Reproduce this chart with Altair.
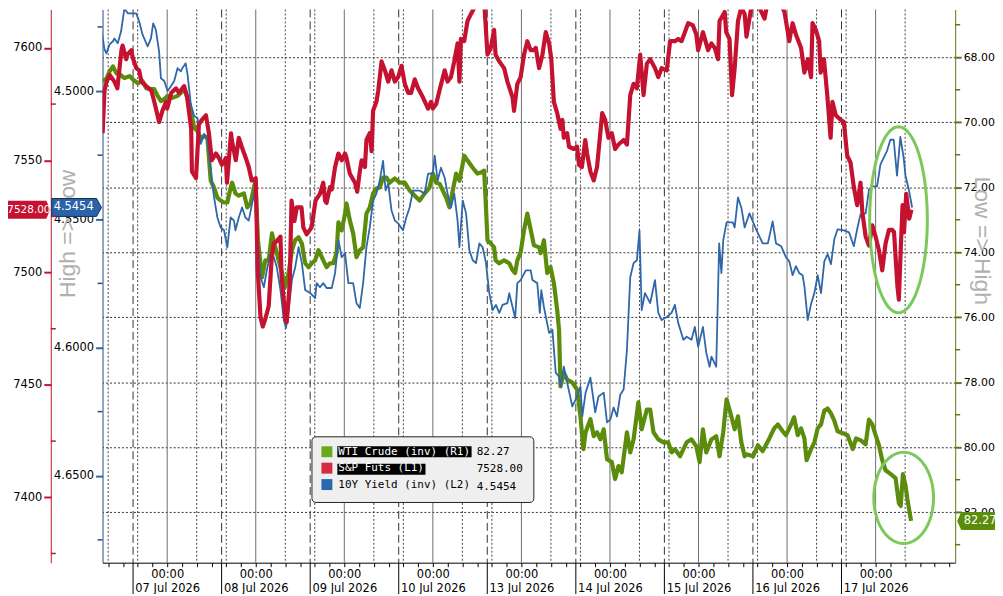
import math
import altair as alt
import pandas as pd

# ---------------- data ----------------
# x = trading-time hours, 0 = 07 Jul 2026 00:00, 24 h per session day
day_labels = ["07 Jul 2026", "08 Jul 2026", "09 Jul 2026", "10 Jul 2026", "13 Jul 2026",
              "14 Jul 2026", "15 Jul 2026", "16 Jul 2026", "17 Jul 2026"]
midnight_hours = [0, 24, 48, 72, 96, 120, 144, 168, 192]
session_breaks = [-9.25, 14.75, 38.75, 62.75, 86.75, 110.75, 134.75, 158.75, 182.75]
dotted_hours = [-16, -8, 8, 16, 32, 40, 56, 64, 80, 88, 104, 112, 128, 136, 152, 160, 176, 184, 200]
axis_tick_hours = [-16, -12, -8, -4, 0, 4, 8, 12, 16, 20, 24, 28, 32, 36, 40, 44, 48, 52, 56, 60, 64, 68,
                   72, 76, 80, 84, 88, 92, 96, 100, 104, 108, 112, 116, 120, 124, 128, 132, 136, 140,
                   144, 148, 152, 156, 160, 164, 168, 172, 176, 180, 184, 188, 192, 196, 200, 204, 208, 212]

sp_hours = [-17.5, -17.0, -16.4, -15.6, -14.3, -13.5, -12.4, -12.1, -11.1, -10.8, -9.7, -9.4, -8.4, -7.6, -7.0,
            -5.7, -4.3, -3.5, -2.2, -1.3, -0.3, 0.0, 1.1, 2.4, 3.2, 4.6, 5.4, 6.5, 6.7, 7.8, 8.6, 9.4, 10.5,
            11.3, 12.1, 13.2, 14.0, 14.8, 15.9, 16.2, 17.3, 17.5, 18.6, 19.4, 20.2, 21.3, 22.1, 22.9, 24.0,
            24.5, 25.3, 25.9, 26.7, 27.5, 28.3, 28.9, 29.7, 30.7, 31.0, 32.1, 32.4, 33.2, 33.7, 34.5, 35.1,
            36.4, 36.9, 37.8, 39.1, 40.2, 41.4, 42.3, 42.8, 43.2, 44.1, 44.6, 45.5, 46.4, 47.3, 48.2, 48.6,
            49.5, 50.9, 51.5, 52.2, 52.7, 53.6, 54.0, 54.9, 55.4, 55.8, 56.7, 57.2, 58.1, 59.0, 59.9, 60.8,
            61.7, 62.6, 63.5, 64.4, 65.3, 66.1, 67.1, 68.0, 69.3, 70.7, 71.5, 72.0, 72.9, 73.8, 75.2, 76.0,
            76.9, 77.8, 78.7, 79.2, 79.6, 80.5, 81.4, 82.3, 83.6, 84.8, 85.9, 86.8, 87.7, 88.6, 89.0, 90.0,
            91.3, 92.2, 93.6, 94.0, 94.9, 95.8, 96.7, 97.6, 98.5, 99.4, 99.9, 100.8, 101.7, 102.6, 103.5,
            104.1, 104.8, 105.7, 106.6, 107.1, 107.5, 108.4, 108.9, 110.2, 111.1, 111.6, 112.4, 113.3,
            113.8, 114.7, 115.6, 116.5, 117.9, 118.7, 119.6, 120.5, 121.4, 122.3, 123.7, 124.6, 125.5,
            126.4, 127.3, 128.2, 129.1, 130.0, 130.9, 132.2, 133.1, 134.0, 135.4, 136.3, 137.6, 138.5,
            139.4, 140.3, 141.2, 142.5, 143.4, 143.9, 145.2, 146.6, 147.5, 148.4, 149.3, 149.7, 151.1,
            151.5, 152.4, 153.1, 153.8, 154.7, 155.6, 156.5, 157.0, 158.3, 159.6, 160.5, 161.9, 162.8,
            163.9, 166.4, 167.3, 168.6, 169.5, 170.4, 171.8, 172.7, 173.6, 174.5, 174.9, 175.8, 176.7,
            177.1, 178.0, 178.9, 179.8, 180.3, 181.2, 182.5, 183.4, 184.3, 185.2, 186.1, 187.0, 187.9,
            188.4, 189.3, 190.2, 191.1, 192.0, 192.9, 193.8, 194.7, 195.6, 196.5, 197.0, 197.9, 198.3,
            198.8, 199.3, 199.7, 200.3, 201.1, 201.7]
sp_values = [7562, 7581, 7585, 7588, 7585, 7582, 7599, 7601, 7595, 7597, 7599, 7596, 7591, 7590, 7585,
             7583, 7581, 7576, 7567, 7572, 7576, 7573, 7580, 7582, 7580, 7583, 7578, 7564, 7545, 7542, 7566,
             7568, 7570, 7562, 7550, 7553, 7551, 7548, 7551, 7540, 7562, 7559, 7550, 7560, 7556, 7551, 7547,
             7541, 7542, 7502, 7480, 7476, 7480, 7485, 7506, 7513, 7514, 7516, 7498, 7479, 7478, 7495, 7532,
             7523, 7529, 7529, 7520, 7517, 7520, 7532, 7535, 7540, 7532, 7531, 7538, 7537, 7547, 7553, 7550,
             7553, 7551, 7544, 7540, 7536, 7545, 7550, 7547, 7559, 7562, 7554, 7572, 7576, 7581, 7594, 7590,
             7585, 7590, 7585, 7587, 7592, 7584, 7580, 7580, 7586, 7582, 7578, 7573, 7576, 7573, 7575, 7581,
             7590, 7585, 7587, 7594, 7602, 7585, 7604, 7603, 7612, 7615, 7619, 7624, 7621, 7597, 7600, 7608,
             7597, 7594, 7591, 7585, 7578, 7572, 7584, 7587, 7597, 7603, 7599, 7599, 7600, 7591, 7597, 7607,
             7602, 7595, 7576, 7571, 7564, 7568, 7560, 7562, 7556, 7555, 7556, 7548, 7547, 7559, 7553, 7545,
             7541, 7547, 7571, 7568, 7560, 7562, 7555, 7557, 7559, 7557, 7579, 7584, 7582, 7597, 7579, 7593,
             7595, 7591, 7587, 7591, 7590, 7603, 7603, 7604, 7603, 7607, 7611, 7610, 7606, 7599, 7607, 7599,
             7602, 7600, 7595, 7612, 7616, 7607, 7604, 7579, 7591, 7612, 7618, 7615, 7605, 7618, 7619, 7618,
             7613, 7621, 7623, 7619, 7616, 7603, 7611, 7606, 7600, 7589, 7595, 7587, 7611, 7608, 7603, 7589,
             7595, 7579, 7560, 7576, 7570, 7568, 7567, 7552, 7549, 7538, 7530, 7540, 7527, 7516, 7512, 7521,
             7516, 7510, 7501, 7513, 7519, 7519, 7518, 7494, 7488, 7510, 7530, 7518, 7535, 7524, 7528]

ust_hours = [-17.9, -17.0, -16.5, -15.6, -14.7, -14.3, -13.4, -12.5, -11.6, -10.7, -8.4, -7.6, -6.7, -5.3,
             -4.4, -3.8, -3.1, -2.2, -1.7, -0.8, 0.1, 1.0, 1.9, 2.8, 3.7, 4.1, 5.0, 5.5, 6.4, 7.3, 8.2, 9.1,
             10.0, 10.9, 11.8, 12.7, 13.6, 14.5, 15.4, 16.3, 17.2, 18.1, 18.5, 19.4, 20.3, 21.2, 22.1, 23.0,
             23.9, 24.6, 25.3, 26.2, 27.0, 28.0, 28.9, 29.7, 30.7, 31.6, 32.2, 32.9, 33.8, 34.7, 35.6, 36.5,
             37.4, 38.8, 40.1, 40.5, 41.4, 42.3, 43.2, 44.6, 45.5, 46.4, 47.3, 48.2, 49.1, 50.4, 51.3, 52.2,
             53.1, 54.0, 54.9, 55.8, 56.7, 57.6, 58.5, 59.2, 59.9, 60.8, 61.7, 62.6, 63.9, 64.8, 65.7, 66.6,
             68.4, 69.8, 70.7, 72.0, 72.5, 73.3, 74.2, 75.2, 76.0, 76.9, 77.8, 78.7, 79.2, 80.1, 81.0, 81.9,
             82.8, 83.7, 84.6, 85.5, 86.4, 87.3, 88.2, 89.1, 90.0, 90.9, 92.2, 92.7, 93.6, 94.3, 94.9, 95.8,
             97.2, 98.5, 99.0, 100.3, 101.0, 101.4, 102.1, 103.5, 104.4, 105.3, 106.2, 106.6, 107.5, 108.4,
             109.8, 111.1, 112.0, 112.5, 113.4, 114.7, 116.0, 116.9, 118.3, 119.2, 120.1, 121.0, 121.9,
             122.8, 123.7, 124.6, 125.5, 126.4, 127.3, 128.0, 128.6, 129.5, 130.9, 132.2, 133.1, 134.0,
             135.4, 136.7, 137.6, 138.5, 139.9, 140.8, 142.1, 143.0, 143.9, 145.2, 146.1, 147.0, 147.5,
             148.8, 149.6, 150.2, 150.7, 151.6, 153.3, 153.8, 154.7, 155.6, 156.5, 157.8, 159.6, 161.4,
             162.8, 164.1, 165.0, 166.4, 167.7, 168.6, 169.5, 170.4, 171.3, 172.2, 172.7, 173.6, 174.5,
             175.4, 176.3, 177.2, 178.1, 179.0, 179.9, 180.8, 181.7, 183.4, 184.8, 186.1, 187.0, 187.9,
             189.3, 190.2, 191.1, 192.4, 193.3, 194.2, 195.1, 196.0, 196.9, 197.8, 198.7, 199.6, 200.1,
             201.0, 201.9]
ust_values = [4.4756, 4.4837, 4.4853, 4.4818, 4.4806, 4.4795, 4.4814, 4.4767, 4.4678, 4.4697, 4.4697, 4.4728,
              4.4779, 4.4826, 4.4795, 4.4736, 4.4760, 4.4845, 4.4950, 4.4961, 4.5000, 4.4981, 4.4961, 4.4911,
              4.4923, 4.4911, 4.4892, 4.4934, 4.5051, 4.5097, 4.5105, 4.5206, 4.5167, 4.5194, 4.5310, 4.5415,
              4.5493, 4.5532, 4.5543, 4.5609, 4.5493, 4.5505, 4.5543, 4.5493, 4.5454, 4.5493, 4.5505, 4.5439,
              4.5377, 4.5582, 4.5726, 4.5765, 4.5699, 4.5633, 4.5648, 4.5687, 4.5776, 4.5893, 4.5924, 4.5854,
              4.5737, 4.5687, 4.5609, 4.5671, 4.5776, 4.5788, 4.5807, 4.5749, 4.5765, 4.5749, 4.5768, 4.5768,
              4.5710, 4.5582, 4.5648, 4.5633, 4.5749, 4.5749, 4.5827, 4.5846, 4.5749, 4.5609, 4.5532, 4.5427,
              4.5400, 4.5350, 4.5272, 4.5388, 4.5361, 4.5466, 4.5505, 4.5516, 4.5543, 4.5493, 4.5454, 4.5388,
              4.5388, 4.5400, 4.5322, 4.5322, 4.5252, 4.5349, 4.5299, 4.5338, 4.5400, 4.5454, 4.5400, 4.5505,
              4.5609, 4.5427, 4.5477, 4.5621, 4.5660, 4.5671, 4.5594, 4.5609, 4.5671, 4.5788, 4.5854, 4.5834,
              4.5865, 4.5834, 4.5827, 4.5788, 4.5842, 4.5885, 4.5749, 4.5737, 4.5699, 4.5699, 4.5737, 4.5749,
              4.5865, 4.5776, 4.5842, 4.5943, 4.5931, 4.6098, 4.6114, 4.6152, 4.6075, 4.6137, 4.6230, 4.6191,
              4.6152, 4.6269, 4.6176, 4.6118, 4.6253, 4.6191, 4.6176, 4.6292, 4.6281, 4.6234, 4.6269, 4.6184,
              4.6164, 4.6009, 4.5726, 4.5671, 4.5660, 4.5543, 4.5854, 4.5788, 4.5827, 4.5737, 4.5865, 4.5893,
              4.5881, 4.5865, 4.5834, 4.5904, 4.5970, 4.5958, 4.5970, 4.5920, 4.5997, 4.5920, 4.6020, 4.6075,
              4.6036, 4.6075, 4.5594, 4.5710, 4.5582, 4.5512, 4.5512, 4.5532, 4.5415, 4.5454, 4.5532, 4.5477,
              4.5539, 4.5594, 4.5594, 4.5508, 4.5594, 4.5605, 4.5648, 4.5664, 4.5718, 4.5683, 4.5710, 4.5718,
              4.5761, 4.5893, 4.5830, 4.5788, 4.5718, 4.5788, 4.5664, 4.5636, 4.5675, 4.5578, 4.5539, 4.5543,
              4.5551, 4.5605, 4.5539, 4.5481, 4.5477, 4.5384, 4.5372, 4.5372, 4.5287, 4.5260, 4.5233, 4.5190,
              4.5190, 4.5330, 4.5179, 4.5260, 4.5330, 4.5384, 4.5454]

wti_hours = [-17.9, -16.5, -15.6, -14.7, -13.8, -12.9, -11.6, -10.2, -9.4, -8.0, -6.7, -5.7, -4.4, -3.5, -2.6,
             -1.7, -0.8, 0.1, 1.4, 2.8, 3.7, 4.6, 5.5, 6.4, 7.3, 8.2, 9.1, 10.0, 10.9, 11.8, 12.7, 13.6, 14.5,
             15.4, 16.3, 17.2, 17.6, 18.5, 19.4, 20.8, 21.7, 22.6, 23.5, 23.9, 24.6, 25.7, 26.6, 27.5, 28.4,
             29.3, 30.2, 31.1, 32.0, 32.9, 33.8, 34.7, 35.6, 36.5, 37.4, 38.3, 39.2, 40.1, 41.0, 41.4, 42.3,
             43.2, 44.1, 45.0, 45.9, 46.4, 47.3, 48.2, 48.6, 49.5, 50.4, 51.3, 52.2, 53.1, 54.0, 54.9, 55.8,
             56.7, 57.6, 58.5, 59.4, 60.3, 61.7, 63.0, 64.4, 65.7, 67.1, 68.4, 69.8, 71.1, 72.0, 72.9, 73.8,
             74.7, 75.6, 76.5, 77.4, 78.3, 79.2, 80.1, 80.5, 81.4, 82.8, 84.1, 85.0, 85.9, 86.4, 86.8, 87.7,
             88.6, 89.0, 90.0, 91.3, 92.7, 93.6, 94.3, 94.9, 95.8, 96.7, 97.6, 98.5, 99.4, 100.8, 101.2, 102.1,
             103.0, 103.9, 104.8, 105.7, 106.2, 106.6, 107.5, 108.4, 109.8, 111.1, 112.0, 112.8, 113.4,
             114.7, 115.6, 116.5, 117.4, 118.3, 119.2, 120.5, 121.4, 122.3, 123.2, 124.6, 125.5, 126.4,
             127.7, 128.6, 130.0, 130.9, 131.8, 133.1, 134.5, 135.8, 136.7, 137.6, 139.0, 139.9, 140.8,
             142.1, 143.4, 144.3, 145.2, 146.1, 147.5, 148.8, 149.7, 150.7, 151.6, 152.4, 153.8, 154.7,
             155.6, 156.5, 157.0, 158.8, 160.1, 161.4, 163.2, 164.5, 165.5, 166.8, 167.7, 169.1, 169.9,
             170.9, 171.8, 172.7, 173.3, 174.5, 175.4, 176.3, 177.2, 178.1, 179.0, 179.9, 180.8, 181.7,
             183.1, 184.4, 185.8, 186.7, 188.0, 189.3, 190.2, 191.1, 192.0, 192.9, 193.8, 194.7, 196.1,
             197.4, 198.3, 198.8, 199.4, 200.1, 200.6, 201.6]
wti_values = [68.73, 68.67, 68.43, 68.28, 68.49, 68.52, 68.64, 68.58, 68.67, 68.80, 68.73, 68.95, 68.98, 68.98,
              69.19, 69.35, 69.29, 69.19, 69.25, 69.19, 69.10, 68.98, 69.25, 69.65, 70.17, 70.27, 70.51, 70.42,
              70.48, 71.80, 72.01, 72.32, 72.41, 72.47, 72.47, 72.01, 71.86, 72.19, 72.26, 72.19, 72.62, 72.50,
              72.01, 71.80, 73.63, 74.77, 74.25, 74.25, 73.42, 73.85, 74.25, 74.64, 75.07, 74.64, 73.94, 73.63,
              73.54, 73.73, 74.34, 74.46, 74.34, 74.25, 73.94, 74.03, 74.25, 74.46, 74.34, 74.34, 74.03, 73.08,
              73.33, 72.81, 72.50, 73.02, 73.42, 74.15, 73.94, 73.85, 72.81, 72.62, 72.19, 72.04, 72.01, 71.70,
              71.70, 71.86, 71.73, 71.86, 71.86, 72.10, 72.26, 72.41, 72.19, 72.01, 71.58, 71.86, 71.89, 72.10,
              72.32, 72.62, 72.10, 71.58, 71.80, 71.28, 71.03, 71.18, 71.40, 71.58, 71.55, 71.49, 72.62, 73.63,
              73.73, 73.85, 74.25, 74.34, 74.25, 74.34, 74.55, 74.64, 74.25, 74.00, 73.33, 72.81, 73.30, 73.79,
              73.85, 74.03, 73.63, 74.64, 74.46, 74.95, 75.78, 76.39, 78.13, 77.71, 77.92, 78.01, 78.23, 79.05,
              80.06, 79.54, 79.14, 79.66, 79.54, 79.76, 79.45, 80.37, 80.46, 80.98, 80.58, 80.77, 79.54, 80.16,
              79.76, 78.62, 79.45, 78.84, 78.84, 79.54, 79.76, 79.85, 79.85, 80.16, 80.06, 80.28, 80.06, 79.85,
              79.76, 79.97, 80.46, 79.45, 80.16, 79.76, 79.66, 80.28, 79.54, 78.53, 78.84, 79.45, 79.05, 79.85,
              80.28, 80.22, 80.28, 79.94, 80.12, 79.73, 79.42, 79.30, 79.51, 79.63, 79.30, 79.08, 79.63, 79.42,
              79.73, 80.40, 80.06, 79.85, 79.42, 79.30, 78.87, 78.81, 78.96, 79.18, 79.51, 79.57, 79.63, 80.06,
              79.73, 79.79, 79.91, 79.15, 79.30, 79.63, 79.94, 80.40, 80.71, 80.83, 80.95, 81.72, 81.81, 80.83,
              81.17, 81.59, 82.27]

series_names = ["WTI Crude (inv) (R1)", "S&P Futs (L1)", "10Y Yield (inv) (L2)"]
last_labels = ["82.27", "7528.00", "4.5454"]

sp_ticks = [7400, 7450, 7500, 7550, 7600]
sp_minor = [7375, 7425, 7475, 7525, 7575]
ust_ticks = [4.50, 4.55, 4.60, 4.65]
ust_minor = [4.475, 4.525, 4.575, 4.625, 4.675]
wti_ticks = [68, 70, 72, 74, 76, 78, 80, 82]
wti_minor = [67, 69, 71, 73, 75, 77, 79, 81, 83]

# circled areas (centre, in data units)
circle_sp = {"h": [198.2], "v": [7523.5]}
circle_wti = {"h": [199.6], "v": [81.56]}

# ---------------- styling ----------------
W, H = 857, 556
RED, GREEN, BLUE = "#c41230", "#5b8c0c", "#2f67a8"
LEG_GREEN, LEG_RED, LEG_BLUE = "#69a91a", "#d42a44", "#2a68b0"
AX_GREEN, AX_BLUE = "#5a7a12", "#1f4e8c"
CIRCLE = "#7cc85a"
FONT = "DejaVu Sans"
MONO = "DejaVu Sans Mono"


def ellipse_path(ratio, n=72):
    pts = [(ratio * math.cos(2 * math.pi * i / n), math.sin(2 * math.pi * i / n)) for i in range(n)]
    return "M" + "L".join(f"{x:.4f},{y:.4f}" for x, y in pts) + "Z"


def bar_path(x0, x1, half_h):
    return f"M{x0},{-half_h}L{x1},{-half_h}L{x1},{half_h}L{x0},{half_h}Z"


TAG_RED = "M-2.45,-0.9L2.05,-0.9L2.45,0L2.05,0.9L-2.45,0.9Z"
TAG_BLUE = "M-2.5,-0.9L2.0,-0.9L2.5,0L2.0,0.9L-2.5,0.9Z"
TAG_GREEN = "M-2.1,0L-1.7,-0.9L2.4,-0.9L2.4,0.9L-1.7,0.9Z"

js_days = "[" + ",".join("'" + d + "'" for d in day_labels) + "]"
label_expr = f"datum.value % 24 === 0 ? ['00:00', {js_days}[datum.value / 24]] : ''"

x_enc = alt.X(
    "h:Q",
    scale=alt.Scale(domain=[-17.53, 213.57], nice=False, zero=False),
    axis=alt.Axis(values=axis_tick_hours, labelExpr=label_expr, title=None, grid=False,
                  domainColor="#000", tickColor="#000", tickSize=4, labelColor="#000",
                  labelFont=FONT, labelFontSize=11.5, labelPadding=2, labelLineHeight=14,
                  labelOverlap=False, labelFlush=False, labelBound=False),
)

sp_scale = alt.Scale(domain=[7370.9, 7617.1], nice=False, zero=False)
ust_scale = alt.Scale(domain=[4.4682, 4.6839], nice=False, zero=False, reverse=True)
wti_scale = alt.Scale(domain=[66.53, 83.554], nice=False, zero=False, reverse=True)

common_axis = dict(labelColor="#000", labelFont=FONT, labelFontSize=11.5, tickWidth=2, tickSize=7,
                   labelPadding=2, grid=False)
sp_axis = alt.Axis(orient="left", offset=52, values=sp_ticks, format="d", title=None,
                   domainColor=RED, tickColor=RED, **common_axis)
ust_axis = alt.Axis(orient="left", offset=0, values=ust_ticks, format=".4f", title="High => Low",
                    titleX=-35, titleY=225, titleAngle=270, titleAlign="center", titleBaseline="middle",
                    titleFont="Liberation Sans", titleFontSize=23, titleFontWeight="normal",
                    titleColor="#b0b0b0", domainColor=AX_BLUE, tickColor=BLUE, **common_axis)
wti_axis = alt.Axis(orient="right", values=wti_ticks, format=".2f", title="Low => High",
                    titleX=26, titleY=232, titleAngle=90, titleAlign="center", titleBaseline="middle",
                    titleFont="Liberation Sans", titleFontSize=23, titleFontWeight="normal",
                    titleColor="#b0b0b0", domainColor=AX_GREEN, tickColor=AX_GREEN,
                    labelColor="#000", labelFont=FONT, labelFontSize=11, tickWidth=2, tickSize=6,
                    labelPadding=2, grid=True, gridDash=[2, 2], gridColor="#333", gridWidth=1)

# legend: swatches + names (on top) over a box holding the highlight bars and the last values
LEG_X, LEG_Y, LEG_PAD, ROW_PAD = 210, 429, 10, 4.5
CH = 11 * 0.602  # monospace advance at 11px
names_legend = alt.Legend(
    orient="none", legendX=LEG_X, legendY=LEG_Y, title=None, padding=LEG_PAD,
    symbolType="square", symbolSize=121, symbolStrokeWidth=0, symbolOpacity=1,
    labelFont=MONO, labelFontSize=11, labelLimit=400, rowPadding=ROW_PAD, labelOffset=6, zindex=2,
    labelColor={"expr": "indexof(datum.label, '10Y') === 0 ? '#000000' : '#ffffff'"})
bar_shapes = [bar_path(7, round((11.5 + CH * len(n) + 1.5) / 1.5, 2), 3.67) for n in series_names[:2]]
bar_shapes.append("M0,0L0,0Z")
values_legend = alt.Legend(
    orient="none", legendX=LEG_X, legendY=LEG_Y, title=None, padding=LEG_PAD,
    fillColor="#efefef", strokeColor="#222", cornerRadius=4,
    symbolSize=9, symbolStrokeWidth=0, symbolFillColor="#000", symbolOpacity=1,
    labelFont=MONO, labelFontSize=11, labelColor="#000", labelLimit=400,
    rowPadding=ROW_PAD, labelOffset=round(6 + CH * 21), zindex=1)

names_carrier = alt.Chart(pd.DataFrame({"series": series_names})).mark_square(
    filled=True, opacity=1, size=121).encode(
    x=alt.value(-500), y=alt.value(-500),
    color=alt.Color("series:N", scale=alt.Scale(domain=series_names, range=[LEG_GREEN, LEG_RED, LEG_BLUE]),
                    legend=names_legend))
values_carrier = alt.Chart(pd.DataFrame({"value_label": last_labels})).mark_point(
    filled=True, color="#000", opacity=1).encode(
    x=alt.value(-500), y=alt.value(-500),
    shape=alt.Shape("value_label:N", scale=alt.Scale(domain=last_labels, range=bar_shapes),
                    legend=values_legend))

# ---------------- grid ----------------
grid_solid = alt.Chart(pd.DataFrame({"h": midnight_hours})).mark_rule(
    color="#6e6e6e", strokeWidth=1).encode(x=x_enc)
grid_dotted = alt.Chart(pd.DataFrame({"h": dotted_hours})).mark_rule(
    color="#444", strokeWidth=1, strokeDash=[2, 2]).encode(x=x_enc)
grid_dashed = alt.Chart(pd.DataFrame({"h": session_breaks})).mark_rule(
    color="#333", strokeWidth=1, strokeDash=[8, 4]).encode(x=x_enc)
separators = alt.Chart(pd.DataFrame({"h": session_breaks})).mark_rule(
    color="#000", strokeWidth=1).encode(x=x_enc, y=alt.value(H), y2=alt.value(H + 36))

# ---------------- series ----------------
wti_df = pd.DataFrame({"h": wti_hours, "v": wti_values})
sp_df = pd.DataFrame({"h": sp_hours, "v": sp_values})
ust_df = pd.DataFrame({"h": ust_hours, "v": ust_values})

wti_y = alt.Y("v:Q", scale=wti_scale, axis=wti_axis)
sp_y = alt.Y("v:Q", scale=sp_scale, axis=sp_axis)
ust_y = alt.Y("v:Q", scale=ust_scale, axis=ust_axis)

wti_line = alt.Chart(wti_df).mark_line(color=GREEN, strokeWidth=4.2, clip=True, strokeJoin="round").encode(
    x=x_enc, y=wti_y)
sp_line = alt.Chart(sp_df).mark_line(color=RED, strokeWidth=4.2, clip=True, strokeJoin="round").encode(
    x=x_enc, y=sp_y)
ust_line = alt.Chart(ust_df).mark_line(color=BLUE, strokeWidth=1.8, clip=True, strokeJoin="round").encode(
    x=x_enc, y=ust_y)

# minor axis ticks (between the labelled ones)
sp_minor_ticks = alt.Chart(pd.DataFrame({"v": sp_minor})).mark_rule(color=RED, strokeWidth=1.5).encode(
    x=alt.value(-52), x2=alt.value(-47), y=sp_y)
ust_minor_ticks = alt.Chart(pd.DataFrame({"v": ust_minor})).mark_rule(color=AX_BLUE, strokeWidth=1.5).encode(
    x=alt.value(-5), x2=alt.value(0), y=ust_y)
wti_minor_ticks = alt.Chart(pd.DataFrame({"v": wti_minor})).mark_rule(color=AX_GREEN, strokeWidth=1.5).encode(
    x=alt.value(W), x2=alt.value(W + 5), y=wti_y)

sp_circle = alt.Chart(pd.DataFrame(circle_sp)).mark_point(
    shape=ellipse_path(0.31), size=34969, filled=False, color=CIRCLE, strokeWidth=3, opacity=1).encode(
    x=x_enc, y=sp_y)
wti_circle = alt.Chart(pd.DataFrame(circle_wti)).mark_point(
    shape=ellipse_path(0.654), size=8427, filled=False, color=CIRCLE, strokeWidth=3, opacity=1).encode(
    x=x_enc, y=wti_y)

# ---------------- last-value tags ----------------
sp_tag_df = pd.DataFrame({"v": [sp_values[-1]], "label": [last_labels[1]]})
ust_tag_df = pd.DataFrame({"v": [ust_values[-1]], "label": [last_labels[2]]})
wti_tag_df = pd.DataFrame({"v": [wti_values[-1]], "label": [last_labels[0]]})

sp_tag = alt.Chart(sp_tag_df).mark_point(shape=TAG_RED, size=400, filled=True, fill=RED, opacity=1,
                                         strokeWidth=0).encode(x=alt.value(-77), y=sp_y)
sp_tag_txt = alt.Chart(sp_tag_df).mark_text(color="white", font=FONT, fontSize=10.5, align="center",
                                            baseline="middle").encode(x=alt.value(-74), y=sp_y, text="label:N")
ust_tag = alt.Chart(ust_tag_df).mark_point(shape=TAG_BLUE, size=400, filled=True, fill="#2a64a8",
                                           stroke="#12305a", strokeWidth=1, opacity=1).encode(
    x=alt.value(-26), y=ust_y)
ust_tag_txt = alt.Chart(ust_tag_df).mark_text(color="white", font=FONT, fontSize=11.5, align="center",
                                              baseline="middle").encode(x=alt.value(-29), y=ust_y, text="label:N")
wti_tag = alt.Chart(wti_tag_df).mark_point(shape=TAG_GREEN, size=400, filled=True, fill=GREEN, opacity=1,
                                           strokeWidth=0).encode(x=alt.value(880), y=wti_y)
wti_tag_txt = alt.Chart(wti_tag_df).mark_text(color="white", font=FONT, fontSize=11.5, align="center",
                                              baseline="middle").encode(x=alt.value(882), y=wti_y, text="label:N")

wti_layer = alt.layer(wti_minor_ticks, wti_line, wti_circle, wti_tag, wti_tag_txt)
ust_layer = alt.layer(ust_minor_ticks, ust_line, ust_tag, ust_tag_txt)
sp_layer = alt.layer(sp_minor_ticks, sp_line, sp_circle, sp_tag, sp_tag_txt)

chart = alt.layer(
    grid_solid, grid_dotted, grid_dashed, separators, names_carrier, values_carrier,
    wti_layer, ust_layer, sp_layer
).resolve_scale(y="independent").properties(
    width=W, height=H,
    autosize=alt.AutoSizeParams(type="none"),
    padding={"left": 95, "top": 0, "right": 40, "bottom": 30},
    background="white",
).configure_view(stroke=None)

chart.save("out.html", embed_options={"renderer": "svg", "actions": False})
